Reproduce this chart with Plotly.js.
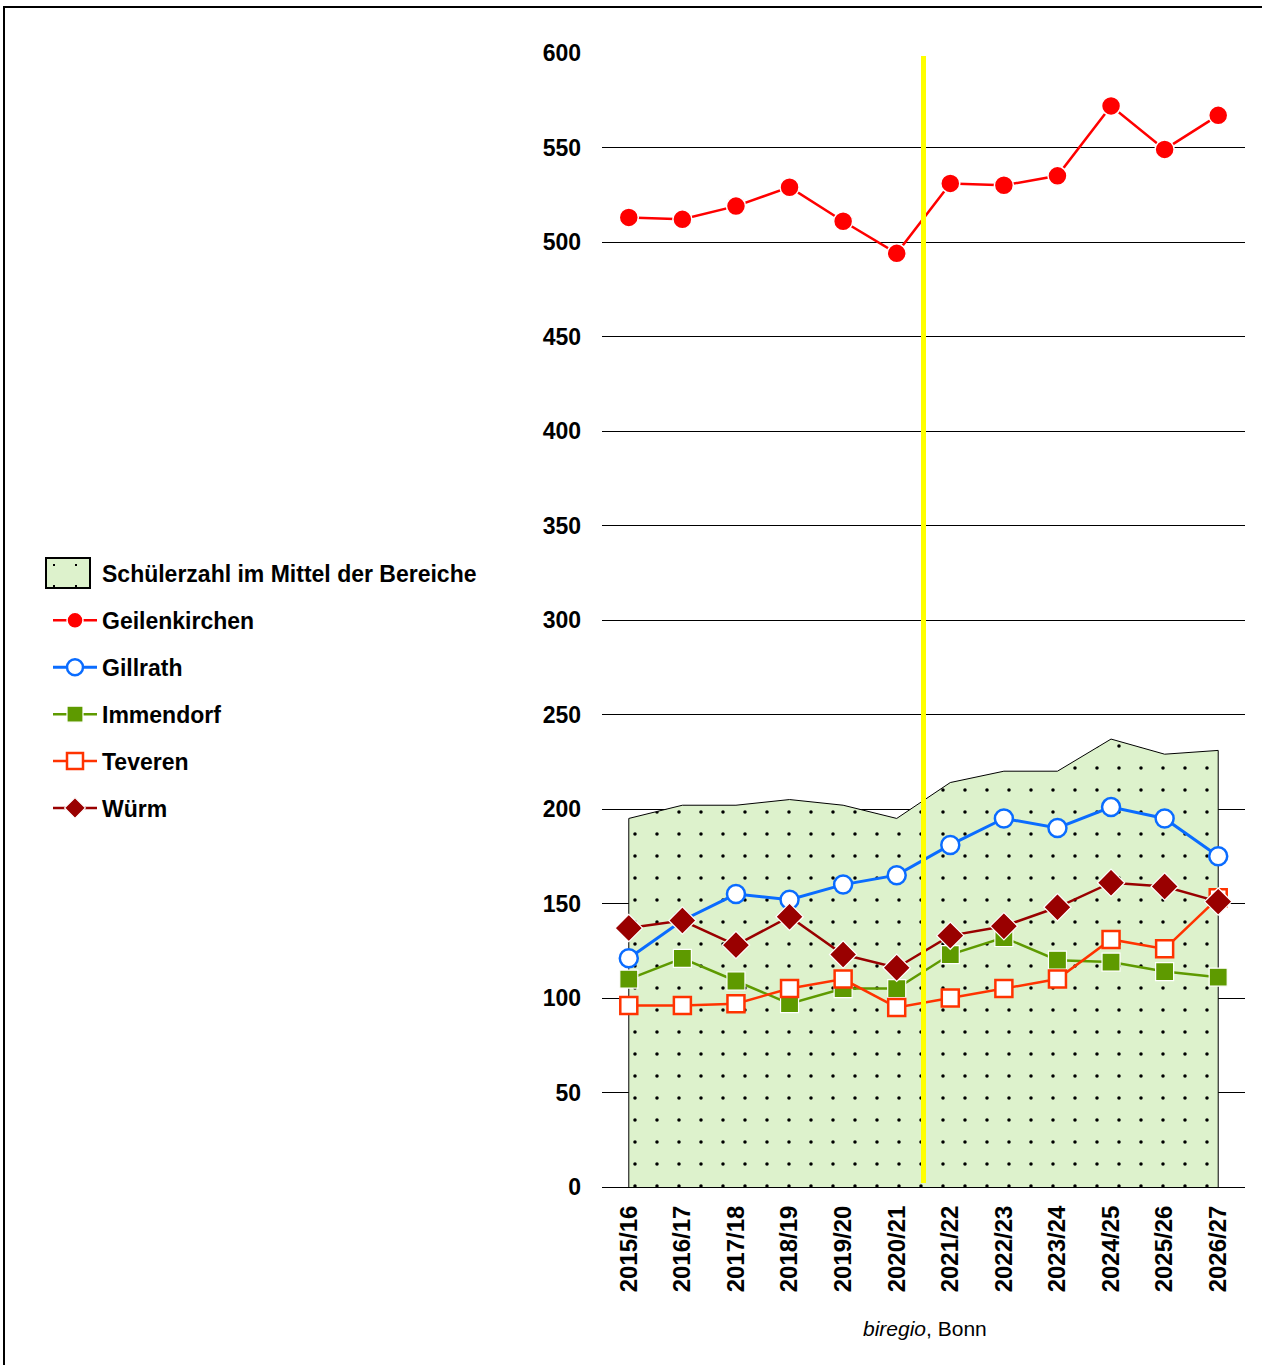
<!DOCTYPE html>
<html>
<head>
<meta charset="utf-8">
<script src="https://cdn.plot.ly/plotly-3.0.1.min.js"></script>
<style>
  html, body { margin: 0; padding: 0; background: #ffffff; }
  #chart { width: 1262px; height: 1365px; }
</style>
</head>
<body>
<div id="chart"></div>
<script>
// ---- Data ----
const categories = ["2015/16","2016/17","2017/18","2018/19","2019/20","2020/21","2021/22","2022/23","2023/24","2024/25","2025/26","2026/27"];
const mittel        = [195, 202, 202, 205, 202, 195, 214, 220, 220, 237, 229, 231];
const geilenkirchen = [513, 512, 519, 529, 511, 494, 531, 530, 535, 572, 549, 567];
const gillrath      = [121, 141, 155, 152, 160, 165, 181, 195, 190, 201, 195, 175];
const immendorf     = [110, 121, 109, 97, 105, 105, 123, 132, 120, 119, 114, 111];
const teveren       = [96, 96, 97, 105, 110, 95, 100, 105, 110, 131, 126, 153];
const wuerm         = [137, 141, 128, 143, 123, 116, 133, 138, 148, 161, 159, 151];
const seriesNames = ["Schülerzahl im Mittel der Bereiche","Geilenkirchen","Gillrath","Immendorf","Teveren","Würm"];
const yTicks = [0, 50, 100, 150, 200, 250, 300, 350, 400, 450, 500, 550, 600];
const sourceNote = "<i>biregio</i>, Bonn";

// ---- Layout geometry ----
const W = 1262, H = 1365;
const M = { l: 602, r: 17, t: 53, b: 178 };
const pw = W - M.l - M.r, ph = H - M.t - M.b;
const px2x = p => (p - M.l) / pw;
const px2y = p => (H - M.b - p) / ph;

const idx = categories.map((c, i) => i);
const font = "'Liberation Sans', Arial, sans-serif";
const areaFill = "#ddf2cc";

// area polygon closed down to zero
const areaX = [idx[0]].concat(idx, [idx[idx.length - 1]]);
const areaY = [0].concat(mittel, [0]);

const traces = [
  {
    name: seriesNames[0], showlegend: false,
    x: areaX, y: areaY, type: "scatter", mode: "lines",
    fill: "toself", fillcolor: areaFill,
    fillpattern: { shape: ".", size: 22, solidity: 0.02, fgcolor: "#000000", bgcolor: areaFill, fillmode: "replace" },
    line: { color: "#000000", width: 1 },
    hoverinfo: "skip"
  },
  {
    // legend entry for the area (symbol drawn as a box shape below)
    name: seriesNames[0], legendgroup: "g0",
    x: [null], y: [null], type: "scatter", mode: "markers",
    marker: { color: "rgba(0,0,0,0)", size: 1 }
  },
  {
    name: seriesNames[1], legendgroup: "g1",
    x: idx, y: geilenkirchen, type: "scatter", mode: "lines+markers",
    line: { color: "#ff0000", width: 2.5 },
    marker: { symbol: "circle", size: 19, color: "#ff0000", line: { color: "#ffffff", width: 1.5 } }
  },
  {
    name: seriesNames[2], legendgroup: "g2",
    x: idx, y: gillrath, type: "scatter", mode: "lines+markers",
    line: { color: "#0a6cff", width: 3 },
    marker: { symbol: "circle", size: 18, color: "#ffffff", line: { color: "#0a6cff", width: 2.5 } }
  },
  {
    name: seriesNames[3], legendgroup: "g3",
    x: idx, y: immendorf, type: "scatter", mode: "lines+markers",
    line: { color: "#5e9a00", width: 2.5 },
    marker: { symbol: "square", size: 18, color: "#5e9a00", line: { color: "#ffffff", width: 1.2 } }
  },
  {
    name: seriesNames[4], legendgroup: "g4",
    x: idx, y: teveren, type: "scatter", mode: "lines+markers",
    line: { color: "#ff3300", width: 2.5 },
    marker: { symbol: "square", size: 17, color: "#ffffff", line: { color: "#ff3300", width: 2.5 } }
  },
  {
    name: seriesNames[5], legendgroup: "g5",
    x: idx, y: wuerm, type: "scatter", mode: "lines+markers",
    line: { color: "#990000", width: 2.5 },
    marker: { symbol: "diamond", size: 21, color: "#990000", line: { color: "#ffffff", width: 1.2 } }
  }
];

const layout = {
  width: W, height: H,
  margin: M,
  paper_bgcolor: "#ffffff",
  plot_bgcolor: "rgba(0,0,0,0)",
  font: { family: font, color: "#000000" },
  showlegend: true,
  legend: {
    x: px2x(48), y: px2y(552), xanchor: "left", yanchor: "top",
    xref: "paper", yref: "paper",
    font: { family: font, size: 23, color: "#000000", weight: "bold" },
    bgcolor: "rgba(0,0,0,0)",
    tracegroupgap: 14,
    itemwidth: 44,
    traceorder: "grouped"
  },
  xaxis: {
    range: [-0.5, 11.5],
    tickvals: idx, ticktext: categories,
    tickangle: -90,
    tickfont: { family: font, size: 24, color: "#000000", weight: "bold" },
    showgrid: false, zeroline: false,
    showline: true, linecolor: "#000000", linewidth: 1,
    ticks: "", ticklabelstandoff: 8,
    fixedrange: true
  },
  yaxis: {
    range: [0, 600],
    tickvals: yTicks,
    tickfont: { family: font, size: 23, color: "#000000", weight: "bold" },
    showgrid: true, gridcolor: "#000000", gridwidth: 1,
    zeroline: false, showline: false,
    ticks: "", ticklabelstandoff: 20,
    fixedrange: true
  },
  shapes: [
    { type: "line", xref: "x", yref: "paper", x0: 5.5, x1: 5.5, y0: px2y(1183), y1: px2y(56),
      line: { color: "#ffff00", width: 5 }, layer: "above" },
    { type: "line", xref: "paper", yref: "paper", x0: px2x(3), x1: px2x(1270), y0: px2y(7), y1: px2y(7),
      line: { color: "#000000", width: 2 } },
    { type: "line", xref: "paper", yref: "paper", x0: px2x(4), x1: px2x(4), y0: px2y(6), y1: px2y(1370),
      line: { color: "#000000", width: 2 } },
    // legend box symbol for the area series
    { type: "rect", xref: "paper", yref: "paper", x0: px2x(46), x1: px2x(90), y0: px2y(588), y1: px2y(558),
      fillcolor: areaFill, line: { color: "#000000", width: 2 }, layer: "above" },
    { type: "rect", xref: "paper", yref: "paper", x0: px2x(53), x1: px2x(55), y0: px2y(566), y1: px2y(564),
      fillcolor: "#000000", line: { width: 0 }, layer: "above" },
    { type: "rect", xref: "paper", yref: "paper", x0: px2x(75), x1: px2x(77), y0: px2y(566), y1: px2y(564),
      fillcolor: "#000000", line: { width: 0 }, layer: "above" },
    { type: "rect", xref: "paper", yref: "paper", x0: px2x(53), x1: px2x(55), y0: px2y(587), y1: px2y(585),
      fillcolor: "#000000", line: { width: 0 }, layer: "above" },
    { type: "rect", xref: "paper", yref: "paper", x0: px2x(75), x1: px2x(77), y0: px2y(587), y1: px2y(585),
      fillcolor: "#000000", line: { width: 0 }, layer: "above" }
  ],
  annotations: [
    { text: sourceNote, xref: "paper", yref: "paper", x: px2x(925), y: px2y(1328),
      xanchor: "center", yanchor: "middle", showarrow: false,
      font: { family: font, size: 21, color: "#000000" } }
  ]
};

Plotly.newPlot("chart", traces, layout, { staticPlot: true, displayModeBar: false });
</script>
</body>
</html>
